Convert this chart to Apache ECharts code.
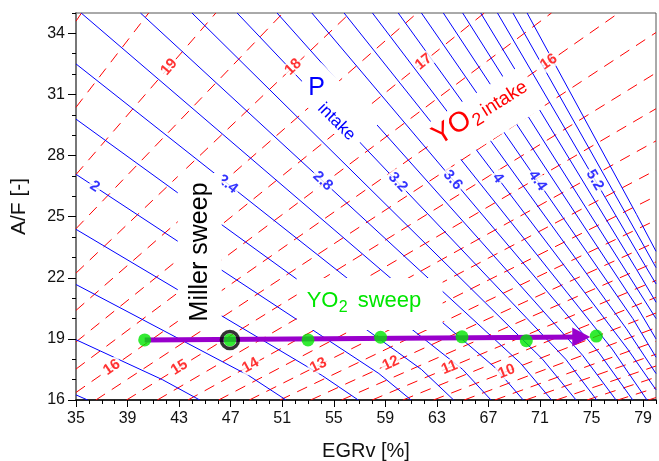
<!DOCTYPE html>
<html><head><meta charset="utf-8">
<script src="https://cdn.jsdelivr.net/npm/echarts@6/dist/echarts.min.js"></script>
<style>html,body{margin:0;padding:0;background:#fff}#c{width:659px;height:461px}</style>
</head><body><div id="c"></div>
<script>
// ---------- data ----------
const xMajor = [35,39,43,47,51,55,59,63,67,71,75,79];
const yMajor = [16,19,22,25,28,31,34];

// YO2 intake iso-lines (red dashed): level, start [EGR, A/F], end [EGR, A/F]
const redLevels = [20,19.5,19,18.5,18,17.5,17,16.5,16,15.5,15,14.5,14,13.5,13,12.5,12,11.5,11,10.5,10,9.5,9,8.5,8,7.5,7,6.5];
const redStart = [[35,34.60],[35,30.37],[35,27.07],[35,24.41],[35,22.23],[35,20.40],[35,18.85],[35,17.52],[35,16.37],
  [36.54,16],[38.92,16],[41.31,16],[43.69,16],[46.07,16],[48.45,16],[50.83,16],[53.21,16],[55.60,16],[57.98,16],
  [60.36,16],[62.74,16],[65.12,16],[67.50,16],[69.89,16],[72.27,16],[74.65,16],[77.03,16],[79.41,16]];
const redEnd = [[35.43,35],[40.64,35],[45.85,35],[51.06,35],[56.26,35],[61.47,35],[66.68,35],[71.89,35],[77.10,35],
  [80,34.04],[80,32.06],[80,30.30],[80,28.72],[80,27.29],[80,26.01],[80,24.83],[80,23.76],[80,22.78],[80,21.87],
  [80,21.04],[80,20.27],[80,19.55],[80,18.88],[80,18.25],[80,17.67],[80,17.12],[80,16.60],[80,16.12]];
const redLabelLevels = [19,18,17,16,16,15,14,13,12,11,10];
const redLabelEGR = [42.22,51.85,61.97,71.68,37.78,43.02,48.54,53.81,59.43,63.98,68.41];
const redLabelAF  = [32.35,32.35,32.6,32.6,17.6,17.6,17.7,17.7,17.8,17.6,17.4];

// P intake iso-lines (blue): level, polyline [EGR, A/F]
const blueLevels = [1.2,1.4,1.6,1.8,2.0,2.2,2.4,2.6,2.8,3.0,3.2,3.4,3.6,3.8,4.0,4.2,4.4,4.6,4.8,5.0,5.2,5.4,5.6];
const bluePaths = [
  [[35,16.25],[35.9,16]],
  [[35,18.96],[41.7,17.0],[44.6,16]],
  [[35,21.67],[48.4,17.2],[51.3,16]],
  [[35,24.38],[54.1,17.2],[56.9,16]],
  [[35,27.08],[58.5,17.3],[61.0,16]],
  [[35,29.79],[61.8,17.5],[64.3,16]],
  [[35,32.5],[65.0,17.5],[67.2,16]],
  [[35.4,35],[67.5,17.6],[69.7,16]],
  [[40.0,35],[69.5,17.8],[71.9,16]],
  [[44.0,35],[71.2,18.0],[73.8,16]],
  [[47.5,35],[73.0,18.0],[75.4,16]],
  [[50.6,35],[74.3,18.2],[76.9,16]],
  [[53.3,35],[75.6,18.3],[78.2,16]],
  [[55.8,35],[76.6,18.5],[79.3,16]],
  [[58.0,35],[77.8,18.5],[80,16.5]],
  [[60.0,35],[77.7,19.5],[80,17.3]],
  [[61.8,35],[78.2,20.0],[80,18.1]],
  [[63.5,35],[78.5,20.6],[80,19.0]],
  [[65.0,35],[78.5,21.5],[80,20.0]],
  [[66.4,35],[78.5,22.4],[80,20.8]],
  [[67.7,35],[78.5,23.3],[80,21.7]],
  [[68.9,35],[78.5,24.2],[80,22.5]],
  [[70.0,35],[78.5,25.1],[80,23.3]]
];
const blueLabelLevels = [2,2.4,2.8,3.2,3.6,4,4.4,5.2];
const blueLabelEGR = [36.45,46.77,54.15,59.97,64.23,67.72,70.8,75.25];
const blueLabelAF  = [26.48,26.6,26.75,26.69,26.8,26.9,26.77,26.8];

// YO2 sweep operating points
const sweepEGR = [40.33,46.94,53.0,58.63,64.95,69.94,75.37];
const sweepAF  = [18.95,18.95,18.95,19.08,19.1,18.91,19.14];
const millerPoint = [46.94,18.95];
const arrowStart = [40.33,18.95];
const arrowEnd = [74.2,19.09];

// annotation anchors [EGR, A/F]
const millerTextAt = [44.6,23.27];
const sweepTextAt = [57.55,20.71];
const pTextAt = [53.67,31.32];
const yo2TextAt = [63.25,28.4];

// ---------- chart ----------
const FONT = '"Liberation Sans", Arial, Helvetica, sans-serif';
const RED = '#ff0000', BLUE = '#0000ff', GREEN = '#00e600', PURPLE = '#9900cc';
const chart = echarts.init(document.getElementById('c'));

const baseOption = {
  animation: false,
  backgroundColor: '#fff',
  grid: {left: 76, top: 13, width: 580, height: 387, containLabel: false, outerBoundsMode: 'none',
    show: true, borderColor: '#555', borderWidth: 1, backgroundColor: 'transparent'},
  xAxis: [
    {type: 'value', min: 35, max: 80, interval: 4,
     axisLine: {show: true, onZero: false, lineStyle: {color: '#000', width: 1.5}},
     axisTick: {show: true, length: 7, customValues: xMajor, lineStyle: {color: '#000'}},
     axisLabel: {show: true, customValues: xMajor, fontSize: 16, fontFamily: FONT, color: '#111', margin: 11,
       formatter: v => ((v - 35) % 4 === 0 ? String(v) : '')},
     splitLine: {show: false},
     name: 'EGRv [%]', nameLocation: 'middle', nameGap: 41,
     nameTextStyle: {fontSize: 20, fontFamily: FONT, color: '#111'}},
    {type: 'value', min: 35, max: 80, interval: 1, position: 'bottom',
     axisLine: {show: false, onZero: false}, axisTick: {show: true, length: 4, lineStyle: {color: '#000'}},
     axisLabel: {show: false}, splitLine: {show: false}}
  ],
  yAxis: [
    {type: 'value', min: 16, max: 35, interval: 3,
     axisLine: {show: true, onZero: false, lineStyle: {color: '#777', width: 2}},
     axisTick: {show: true, length: 8, customValues: yMajor, lineStyle: {color: '#000'}},
     axisLabel: {show: true, customValues: yMajor, fontSize: 16, fontFamily: FONT, color: '#111', margin: 11,
       formatter: v => ((v - 16) % 3 === 0 && v <= 34 ? String(v) : '')},
     splitLine: {show: false},
     name: 'A/F [-]', nameLocation: 'middle', nameGap: 46,
     nameTextStyle: {fontSize: 21, fontFamily: FONT, color: '#111'}},
    {type: 'value', min: 16, max: 35, interval: 1, position: 'left',
     axisLine: {show: false, onZero: false}, axisTick: {show: true, length: 4, lineStyle: {color: '#000'}},
     axisLabel: {show: false}, splitLine: {show: false}}
  ],
  series: []
};
chart.setOption(baseOption);
const px = p => chart.convertToPixel({gridIndex: 0}, p);
const angleDeg = (a, b) => {
  const pa = px(a), pb = px(b);
  return Math.atan2(-(pb[1] - pa[1]), pb[0] - pa[0]) * 180 / Math.PI;
};

const series = [];
redLevels.forEach((lv, i) => {
  series.push({type: 'line', name: 'YO2 ' + lv, data: [redStart[i], redEnd[i]], symbol: 'none', silent: true, z: 2,
    clip: true, lineStyle: {color: RED, width: 1, type: [11, 8]}});
});
blueLevels.forEach((lv, i) => {
  series.push({type: 'line', name: 'P ' + lv, data: bluePaths[i], symbol: 'none', silent: true, z: 3,
    clip: true, lineStyle: {color: BLUE, width: 1}});
});

// contour labels
const redLabelData = redLabelLevels.map((lv, i) => {
  const k = redLevels.indexOf(lv);
  return {name: String(lv), value: [redLabelEGR[i], redLabelAF[i]], label: {rotate: angleDeg(redStart[k], redEnd[k])}};
});
const blueLabelData = blueLabelLevels.map((lv, i) => {
  const k = blueLevels.findIndex(v => Math.abs(v - lv) < 1e-6);
  return {name: String(lv), value: [blueLabelEGR[i], blueLabelAF[i]], label: {rotate: angleDeg(bluePaths[k][0], bluePaths[k][1])}};
});
const labelStyle = c => ({show: true, position: 'inside', formatter: '{b}', color: c, fontWeight: 'bold', fontSize: 15,
  fontFamily: FONT, backgroundColor: '#fff', padding: [0, 2]});
series.push({type: 'scatter', data: redLabelData, symbolSize: 0, silent: true, z: 10, label: labelStyle(RED)});
series.push({type: 'scatter', data: blueLabelData, symbolSize: 0, silent: true, z: 10, label: labelStyle(BLUE)});

// sweep arrow
series.push({type: 'line', data: [{value: arrowStart, symbol: 'none'},
    {value: arrowEnd, symbol: 'triangle', symbolSize: [19, 18], symbolRotate: -90}],
  showSymbol: true, silent: true, z: 30, lineStyle: {color: PURPLE, width: 5}, itemStyle: {color: PURPLE}});
// green points
series.push({type: 'scatter', data: sweepEGR.map((e, i) => [e, sweepAF[i]]), symbol: 'circle', symbolSize: 13,
  silent: true, z: 31, itemStyle: {color: GREEN}});
// Miller point ring
series.push({type: 'scatter', data: [millerPoint], symbol: 'circle', symbolSize: 17, silent: true, z: 32,
  itemStyle: {color: 'rgba(0,0,0,0)', borderColor: '#000', borderWidth: 3.5}});

// annotations
const m = px(millerTextAt), s = px(sweepTextAt), p = px(pTextAt), y = px(yo2TextAt);
const txt = (x, yy, text, size, fill, align) => ({type: 'text', x: x, y: yy, z: 21,
  style: {text: text, fontSize: size, fontFamily: FONT, fill: fill, align: align || 'left', verticalAlign: 'middle'}});
const graphic = [
  {type: 'group', x: m[0], y: m[1], rotation: Math.PI / 2, children: [
    {type: 'rect', z: 20, shape: {x: -79, y: -22, width: 158, height: 44}, style: {fill: '#fff'}},
    txt(0, 0, 'Miller sweep', 25, '#000', 'center')
  ]},
  {type: 'group', x: s[0], y: s[1], children: [
    {type: 'rect', z: 20, shape: {x: -70, y: -26, width: 146, height: 52}, style: {fill: '#fff'}},
    txt(-60, -3, 'YO', 22, GREEN),
    txt(-28, 4, '2', 16, GREEN),
    txt(-9, -3, 'sweep', 22, GREEN)
  ]},
  {type: 'group', x: p[0], y: p[1], rotation: -Math.PI / 4, children: [
    {type: 'rect', z: 20, shape: {x: -15, y: -21, width: 84, height: 41}, style: {fill: '#fff'}},
    txt(38, 10, 'intake', 17, BLUE, 'center')
  ]},
  {type: 'group', x: p[0], y: p[1], children: [txt(0, 0, 'P', 25, BLUE, 'center')]},
  {type: 'group', x: y[0], y: y[1], rotation: 32 * Math.PI / 180, children: [
    {type: 'rect', z: 20, shape: {x: -7, y: -27, width: 118, height: 48}, style: {fill: '#fff'}},
    txt(0, -10, 'YO', 28, RED),
    txt(42, -3, '2', 18, RED),
    txt(55, -7, 'intake', 19, RED)
  ]}
];

chart.setOption({series: series, graphic: graphic});
</script>
</body></html>
